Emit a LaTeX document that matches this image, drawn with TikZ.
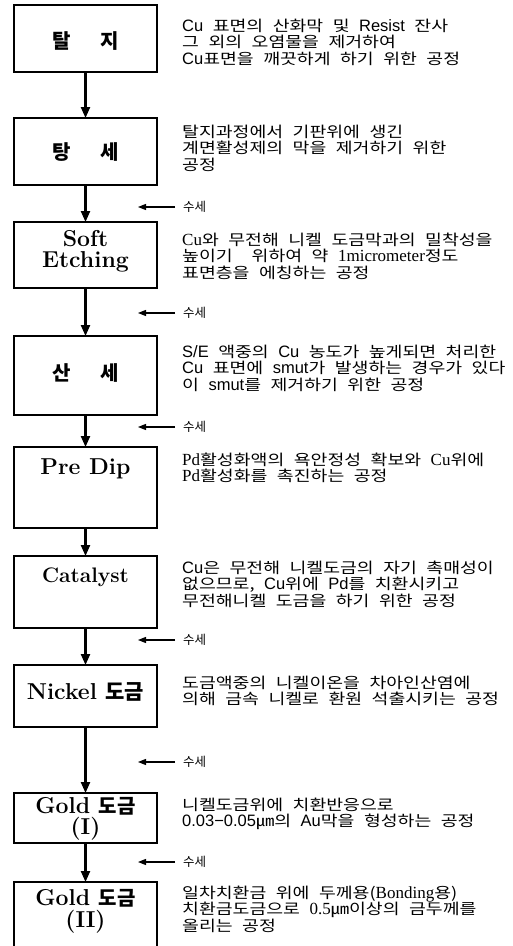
\documentclass[tikz,border=0pt]{standalone}
\usepackage{fontspec}
\usetikzlibrary{arrows.meta}
\newfontfamily\kr[FakeStretch=1.22]{Noto Sans CJK KR}
\newfontfamily\krlab{Noto Sans CJK KR}
\newfontfamily\sansl{Liberation Sans}
\newfontfamily\serifl{Liberation Serif}
\newcommand\Ls[1]{{\sansl\fontsize{16.5}{16}\selectfont #1}}
\newcommand\Lr[1]{{\serifl\fontsize{17}{16}\selectfont #1}}
\newcommand\Lines[1]{\vtop{\baselineskip=16.5pt\relax\lineskiplimit=-30pt\relax\lineskip=0pt\relax\spaceskip=9.5pt plus 1pt\relax #1}}
\newcommand\CLines[2]{\vtop{\baselineskip=#1\relax\lineskiplimit=-30pt\relax\lineskip=0pt\relax\halign{\hfil##\hfil\cr #2\crcr}}}
\newcommand\KB[1]{{\krlab\bfseries #1}}
\tikzset{
  stepbox/.style={draw, line width=1.5pt, minimum width=143pt, inner sep=0pt, outer sep=0pt},
  lab/.style={inner sep=0pt, align=center, font=\bfseries\fontsize{23}{21}\selectfont},
  klab/.style={inner sep=0pt, font=\krlab\bfseries\fontsize{20}{20}\selectfont},
  desc/.style={anchor=base west, inner sep=0pt, font=\kr\fontsize{15}{16}\selectfont},
  wash/.style={anchor=west, inner sep=0pt, font=\krlab\fontsize{12.5}{13}\selectfont},
  flow/.style={line width=2.2pt, -{Triangle[length=11pt,width=9pt]}},
  washarrow/.style={line width=1.2pt, shorten <=8pt, -{Triangle[length=8pt,width=6pt]}}
}
\begin{document}
\begin{tikzpicture}[x=1pt,y=-1pt]
\useasboundingbox (0,0) rectangle (513,946);
\fill[white] (0,0) rectangle (513,946);
% boxes
\node[stepbox, minimum height=67pt] (b1) at (85.5,38.5) {};
\node[stepbox, minimum height=67pt] (b2) at (85.5,151.5) {};
\node[stepbox, minimum height=66pt] (b3) at (85.5,255) {};
\node[stepbox, minimum height=79pt] (b4) at (85.5,375.5) {};
\node[stepbox, minimum height=81pt] (b5) at (85.5,487.5) {};
\node[stepbox, minimum height=72pt] (b6) at (85.5,592) {};
\node[stepbox, minimum height=62pt] (b7) at (85.5,696) {};
\node[stepbox, minimum height=50pt] (b8) at (85.5,818) {};
\node[stepbox, minimum height=80pt] (b9) at (85.5,922) {};
% labels
\node[klab] (l1) at (85.5,41) {탈\hspace{29pt}지};
\node[klab] (l2) at (85.5,152) {탕\hspace{29pt}세};
\node[lab] (l3) at (85.5,251) {Soft\\Etching};
\node[klab] (l4) at (85.5,373) {산\hspace{29pt}세};
\node[lab] (l5) at (85.5,469) {Pre Dip};
\node[lab, font=\bfseries\fontsize{21}{21}\selectfont] (l6) at (85.5,577) {Catalyst};
\node[lab] (l7) at (85.5,692) {Nickel \KB{\fontsize{21}{21}\selectfont 도금}};
\node[lab, anchor=base] (l8) at (85.5,813) {\CLines{21pt}{Gold \KB{\fontsize{20}{20}\selectfont 도금}\cr (I)}};
\node[lab, anchor=base] (l9) at (85.5,905) {\CLines{22pt}{Gold \KB{\fontsize{20}{20}\selectfont 도금}\cr (II)}};
% flow arrows
\draw[flow] (b1.south) -- (b2.north);
\draw[flow] (b2.south) -- (b3.north);
\draw[flow] (b3.south) -- (b4.north);
\draw[flow] (b4.south) -- (b5.north);
\draw[flow] (b5.south) -- (b6.north);
\draw[flow] (b6.south) -- (b7.north);
\draw[flow] (b7.south) -- (b8.north);
\draw[flow] (b8.south) -- (b9.north);
% rinse marks
\foreach \i/\y in {1/207,2/313,3/427,4/640,5/762,6/862}{
  \node[wash] (w\i) at (183,\y) {수세};
  \coordinate (t\i) at (138,\y);
  \draw[washarrow] (w\i.west) -- (t\i);
}
% descriptions
\node[desc] (d1) at (182,31) {\Lines{\hbox{\Ls{Cu} 표면의 산화막 및 \Ls{Resist} 잔사}\hbox{그 외의 오염물을 제거하여}\hbox{\Ls{Cu}표면을 깨끗하게 하기 위한 공정}}};
\node[desc] (d2) at (182,137) {\Lines{\hbox{탈지과정에서 기판위에 생긴}\hbox{계면활성제의 막을 제거하기 위한}\hbox{공정}}};
\node[desc] (d3) at (182,245) {\Lines{\hbox{\Lr{Cu}와 무전해 니켈 도금막과의 밀착성을}\hbox{높이기\ \ 위하여 약 \Lr{1micrometer}정도}\hbox{표면층을 에칭하는 공정}}};
\node[desc] (d4) at (182,357) {\Lines{\hbox{\Ls{S/E} 액중의 \Ls{Cu} 농도가 높게되면 처리한}\hbox{\Ls{Cu} 표면에 \Ls{smut}가 발생하는 경우가 있다}\hbox{이 \Ls{smut}를 제거하기 위한 공정}}};
\node[desc] (d5) at (182,465) {\Lines{\hbox{\Lr{Pd}활성화액의 욕안정성 확보와 \Lr{Cu}위에}\hbox{\Lr{Pd}활성화를 촉진하는 공정}}};
\node[desc] (d6) at (182,573) {\Lines{\hbox{\Ls{Cu}은 무전해 니켈도금의 자기 촉매성이}\hbox{없으므로, \Ls{Cu}위에 \Ls{Pd}를 치환시키고}\hbox{무전해니켈 도금을 하기 위한 공정}}};
\node[desc] (d7) at (182,688) {\Lines{\hbox{도금액중의 니켈이온을 차아인산염에}\hbox{의해 금속 니켈로 환원 석출시키는 공정}}};
\node[desc] (d8) at (182,810) {\Lines{\hbox{니켈도금위에 치환반응으로}\hbox{\Ls{0.03−0.05}㎛의 \Ls{Au}막을 형성하는 공정}}};
\node[desc] (d9) at (182,898) {\Lines{\hbox{일차치환금 위에 두께용(\Lr{Bonding}용)}\hbox{치환금도금으로 \Lr{0.5}㎛이상의 금두께를}\hbox{올리는 공정}}};
\end{tikzpicture}
\end{document}
